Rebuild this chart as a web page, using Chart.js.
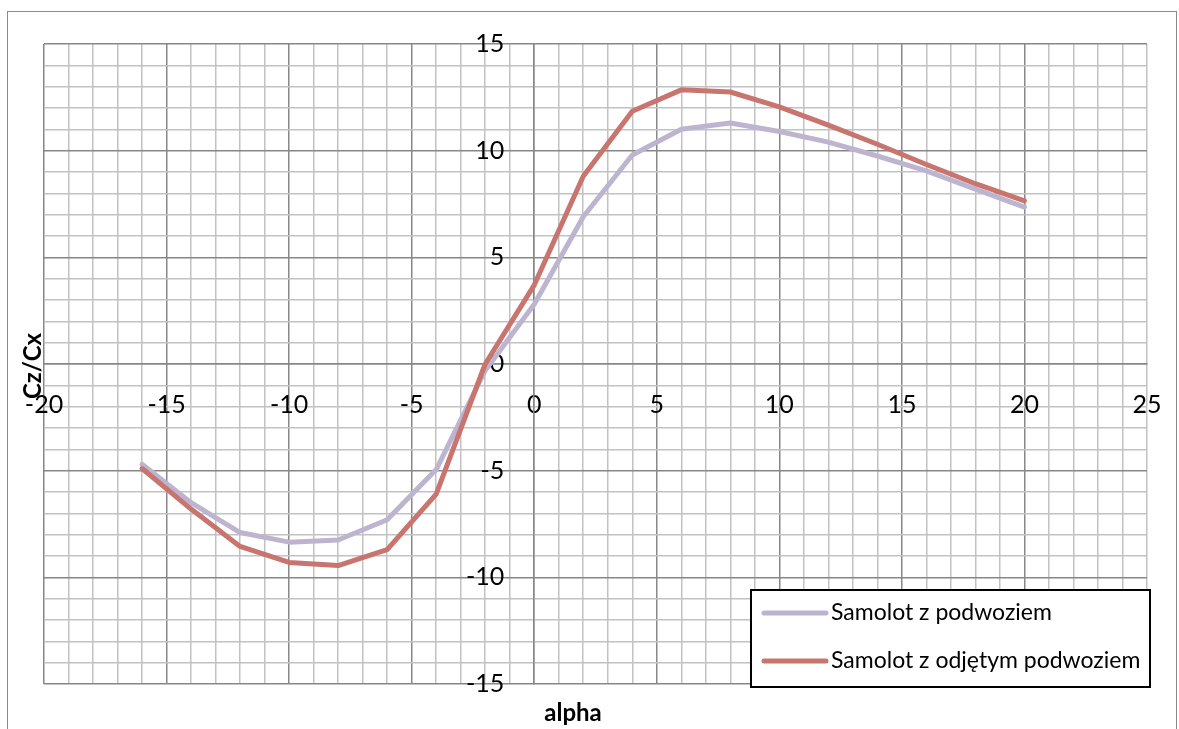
<!DOCTYPE html>
<html>
<head>
<meta charset="utf-8">
<script src="https://cdn.jsdelivr.net/npm/chart.js@4/dist/chart.umd.min.js"></script>
<style>
  html, body { margin: 0; padding: 0; background: #fff; overflow: hidden; }
  #frame {
    position: absolute; left: 7px; top: 11px; width: 1170px; height: 760px;
    border: 1.5px solid #8a8a8a; box-sizing: border-box;
  }
  #wrap { position: absolute; left: 0; top: 0; width: 1179px; height: 729px; }
</style>
</head>
<body>
<div id="frame"></div>
<div id="wrap"><canvas id="myChart" width="1179" height="729"></canvas></div>
<script>
// angle of attack, deg
const alphaVals = [-16, -14, -12, -10, -8, -6, -4, -2, 0, 2, 4, 6, 8, 10, 12, 14, 16, 18, 20];

// Cz/Cx with landing gear
const withGear = [-4.7, -6.5, -7.9, -8.35, -8.25, -7.3, -4.95, -0.3, 2.8, 6.9, 9.8, 11.0, 11.3, 10.9, 10.4, 9.75, 9.05, 8.2, 7.35];

// Cz/Cx with landing gear removed
const noGear = [-4.9, -6.8, -8.55, -9.3, -9.45, -8.7, -6.1, 0.0, 3.7, 8.8, 11.85, 12.85, 12.75, 12.05, 11.2, 10.3, 9.35, 8.45, 7.65];

const seriesNames = ["Samolot z podwoziem", "Samolot z odjętym podwoziem"];
const seriesColors = ["#bdb5cf", "#c8746f"];
const xTitle = "alpha";
const yTitle = "Cz/Cx";

const FONT = "Lato, 'Open Sans', sans-serif";
const MAJOR = "#878787";
const MINOR = "#c2c2c2";

const toPoints = (ys) => ys.map((y, i) => ({ x: alphaVals[i], y: y }));

const gridColor = (last) => (ctx) => {
  if (!ctx.tick) return MINOR;
  const v = ctx.tick.value;
  return v % 5 === 0 && v !== last ? MAJOR : MINOR;
};

// the axes cross at zero, so they must not eat into the layout
const noSpace = (s) => {
  if (s.isHorizontal()) s.height = 0; else s.width = 0;
  s.paddingLeft = s.paddingRight = s.paddingTop = s.paddingBottom = 0;
};

// y labels of a centred axis sit flush on the axis line; move them left
const yLabelGap = {
  id: "yLabelGap",
  beforeDraw(chart) {
    const items = chart.scales.y.getLabelItems();
    if (items._moved) return;
    items.forEach((it) => { it.options.translation[0] -= 30; });
    items._moved = true;
  }
};

// axis titles and the boxed legend in the lower right corner
const extras = {
  id: "extras",
  afterDraw(chart) {
    const ctx = chart.ctx;
    ctx.save();
    ctx.fillStyle = "#000";
    ctx.font = "bold 24px " + FONT;
    ctx.textAlign = "center";
    ctx.textBaseline = "middle";
    ctx.fillText(xTitle, 573, 713);
    ctx.save();
    ctx.translate(33, 366);
    ctx.rotate(-Math.PI / 2);
    ctx.fillText(yTitle, 0, 0);
    ctx.restore();

    const bx = 751, by = 590, bw = 399, bh = 97;
    ctx.fillStyle = "#fff";
    ctx.fillRect(bx, by, bw, bh);
    ctx.strokeStyle = "#000";
    ctx.lineWidth = 2;
    ctx.strokeRect(bx, by, bw, bh);

    ctx.font = "23px " + FONT;
    ctx.textAlign = "left";
    chart.data.datasets.forEach((ds, i) => {
      const y = by + 23 + i * 48;
      ctx.strokeStyle = ds.borderColor;
      ctx.lineWidth = 5;
      ctx.lineCap = "round";
      ctx.beginPath();
      ctx.moveTo(764, y);
      ctx.lineTo(826, y);
      ctx.stroke();
      ctx.fillStyle = "#000";
      ctx.fillText(ds.label, 831, y);
    });
    ctx.restore();
  }
};

const myChart = new Chart(document.getElementById("myChart").getContext("2d"), {
  type: "line",
  data: {
    datasets: [
      {
        label: seriesNames[0],
        data: toPoints(withGear),
        borderColor: seriesColors[0],
        order: 2
      },
      {
        label: seriesNames[1],
        data: toPoints(noGear),
        borderColor: seriesColors[1],
        order: 1
      }
    ]
  },
  options: {
    responsive: false,
    animation: false,
    devicePixelRatio: 1,
    layout: { padding: { left: 44, top: 44, right: 32, bottom: 45 } },
    elements: {
      line: { borderWidth: 5, tension: 0, fill: false, borderCapStyle: "round", borderJoinStyle: "round" },
      point: { radius: 0, hoverRadius: 0 }
    },
    plugins: {
      legend: { display: false },
      tooltip: { enabled: false }
    },
    scales: {
      x: {
        type: "linear",
        min: -20,
        max: 25,
        position: { y: 0 },
        afterFit: noSpace,
        grid: { color: gridColor(25), lineWidth: 1.5, drawTicks: false },
        border: { display: true, color: MAJOR, width: 1.5 },
        ticks: {
          stepSize: 1,
          autoSkip: false,
          maxRotation: 0,
          padding: 26,
          color: "#000",
          font: { family: FONT, size: 25 },
          callback: (v) => (v % 5 === 0 ? String(v) : "")
        }
      },
      y: {
        type: "linear",
        min: -15,
        max: 15,
        position: { x: 0 },
        afterFit: noSpace,
        grid: { color: gridColor(null), lineWidth: 1.5, drawTicks: false },
        border: { display: true, color: MAJOR, width: 1.5 },
        ticks: {
          stepSize: 1,
          autoSkip: false,
          color: "#000",
          font: { family: FONT, size: 25 },
          callback: (v) => (v % 5 === 0 ? String(v) : "")
        }
      }
    }
  },
  plugins: [yLabelGap, extras]
});
</script>
</body>
</html>
